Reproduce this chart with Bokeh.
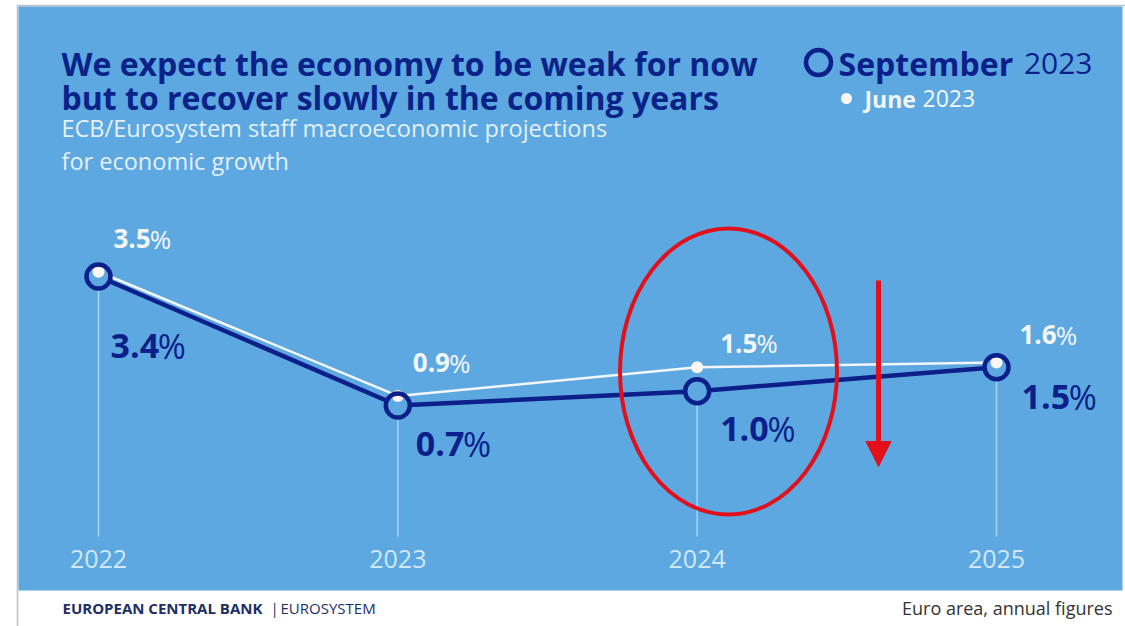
from bokeh.plotting import figure
from bokeh.models import Range1d, Label, Arrow, NormalHead, BoxAnnotation
from bokeh.embed import file_html
from bokeh.resources import INLINE
from bokeh.core.properties import value

# ---------------- data ----------------
years = [2022, 2023, 2024, 2025]
year_labels = ["2022", "2023", "2024", "2025"]
sep_values = [3.4, 0.7, 1.0, 1.5]      # September 2023 projections
june_values = [3.5, 0.9, 1.5, 1.6]     # June 2023 projections
sep_texts = ["3.4", "0.7", "1.0", "1.5"]
june_texts = ["3.5", "0.9", "1.5", "1.6"]

# ---------------- label placement (screen px offsets) ----------------
june_dx = [15, 15, 23, 23]
june_dy = [-33, -33, -24, -28]
sep_dx = [12, 18, 23, 25]
sep_dy = [69, 38, 38, 30]

# ---------------- styles ----------------
BG = "#5da8e0"
NAVY = "#0c1f8a"
TITLE = "#0b2288"
WHITE = "#f3f7fb"
YEARC = "#cfe8fa"
SUBC = "#e4f0fa"
GUIDE = "#a9d5f5"
RED = "#e3101c"
FOOT_NAVY = "#1e2d66"
FONT = "Open Sans"

W, H = 1125, 626

# scales anchored on chart positions (frame = whole canvas)
px_per_year = (996 - 98) / 3.0
x0 = 2022 - 98 / px_per_year
x1 = 2022 + (W - 98) / px_per_year
px_per_unit = (405 - 276) / (3.4 - 0.7)
y1 = 0.7 + 405 / px_per_unit
y0 = 0.7 - (H - 405) / px_per_unit


def X(px):
    return x0 + px / px_per_year


def Y(py):
    return y1 - py / px_per_unit


p = figure(width=W, height=H, output_backend="svg", toolbar_location=None,
           x_range=Range1d(x0, x1), y_range=Range1d(y0, y1), min_border=0)
p.axis.visible = False
p.grid.visible = False
p.background_fill_color = "white"
p.border_fill_color = "white"
p.outline_line_color = None

# blue panel and thin dark page edge
p.add_layout(BoxAnnotation(left=X(18), right=X(1122), top=Y(6), bottom=Y(590),
                           fill_color=BG, fill_alpha=1.0, line_color=None,
                           level="underlay"))
p.add_layout(BoxAnnotation(left=X(17), right=X(1400), top=Y(5), bottom=Y(900),
                           fill_alpha=0.0, line_color="#2a3340", line_width=1.5,
                           level="underlay"))

# guide lines down to year labels
p.segment(x0=years, y0=sep_values, x1=years, y1=[Y(536)] * len(years),
          line_color=GUIDE, line_width=1.5)

# series lines
p.line(years, sep_values, line_color=NAVY, line_width=4.5)
p.line(years, june_values, line_color=WHITE, line_width=2.5)

# markers
p.scatter(years, sep_values, size=24, fill_color=BG, line_color=None)
p.scatter(years, june_values, size=12, fill_color="#fbf6f1", line_color=None)
p.scatter(years, sep_values, size=24, fill_color=None, line_color=NAVY, line_width=4.5)

# year labels
p.text(x=years, y=[Y(558)] * len(years), text=year_labels, text_align="center",
       text_baseline="middle", text_font=value(FONT), text_font_size="25px",
       text_color=YEARC)

# data labels: bold number + regular %
JFS, SFS = 26, 34
jw = JFS * 1.39
sw = SFS * 1.39
p.text(x=years, y=june_values, text=june_texts, x_offset=june_dx, y_offset=june_dy,
       text_align="left", text_baseline="middle", text_font=value(FONT),
       text_font_style="bold", text_font_size=f"{JFS}px", text_color=WHITE)
p.text(x=years, y=june_values, text=["%"] * 4, x_offset=[d + jw for d in june_dx],
       y_offset=june_dy, text_align="left", text_baseline="middle",
       text_font=value(FONT), text_font_size=f"{JFS}px", text_color=WHITE)
p.text(x=years, y=sep_values, text=sep_texts, x_offset=sep_dx, y_offset=sep_dy,
       text_align="left", text_baseline="middle", text_font=value(FONT),
       text_font_style="bold", text_font_size=f"{SFS}px", text_color=NAVY)
p.text(x=years, y=sep_values, text=["%"] * 4, x_offset=[d + sw for d in sep_dx],
       y_offset=sep_dy, text_align="left", text_baseline="middle",
       text_font=value(FONT), text_font_size=f"{SFS}px", text_color=NAVY)

# red annotation: ellipse + arrow
p.ellipse(x=[X(728)], y=[Y(371)], width=217, height=286, width_units="screen",
          height_units="screen", fill_color=None, line_color=RED, line_width=4)
p.add_layout(Arrow(end=NormalHead(size=25, fill_color=RED, line_color=RED),
                   x_start=X(878), y_start=Y(280), x_end=X(878), y_end=Y(466),
                   line_color=RED, line_width=5))


def lab(px, py, text, size, color, bold=False, align="left"):
    p.add_layout(Label(x=X(px), y=Y(py), text=text, text_font=FONT,
                       text_font_size=f"{size}px", text_color=color,
                       text_font_style="bold" if bold else "normal",
                       text_align=align, text_baseline="middle"))


# title / subtitle
lab(61, 63, "We expect the economy to be weak for now", 32, TITLE, bold=True)
lab(61, 97, "but to recover slowly in the coming years", 32, TITLE, bold=True)
lab(61, 127, "ECB/Eurosystem staff macroeconomic projections", 23.5, SUBC)
lab(61, 160, "for economic growth", 23.5, SUBC)

# legend
p.scatter([X(818)], [Y(62)], size=25, fill_color=None, line_color=NAVY, line_width=4.5)
p.scatter([X(846)], [Y(98)], size=11, fill_color="#fbf6f1", line_color=None)
lab(838, 63, "September", 32, NAVY, bold=True)
lab(1092, 63, "2023", 30, NAVY, align="right")
lab(864, 98, "June", 23, WHITE, bold=True)
lab(922, 98, "2023", 23, WHITE)

# footer
lab(62, 607, "EUROPEAN CENTRAL BANK", 15, FOOT_NAVY, bold=True)
lab(270, 607, "|", 15, FOOT_NAVY)
lab(280, 607, "EUROSYSTEM", 15, FOOT_NAVY)
lab(1112, 607, "Euro area, annual figures", 18, "#333333", align="right")

open("out.html", "w").write(file_html(p, INLINE))
